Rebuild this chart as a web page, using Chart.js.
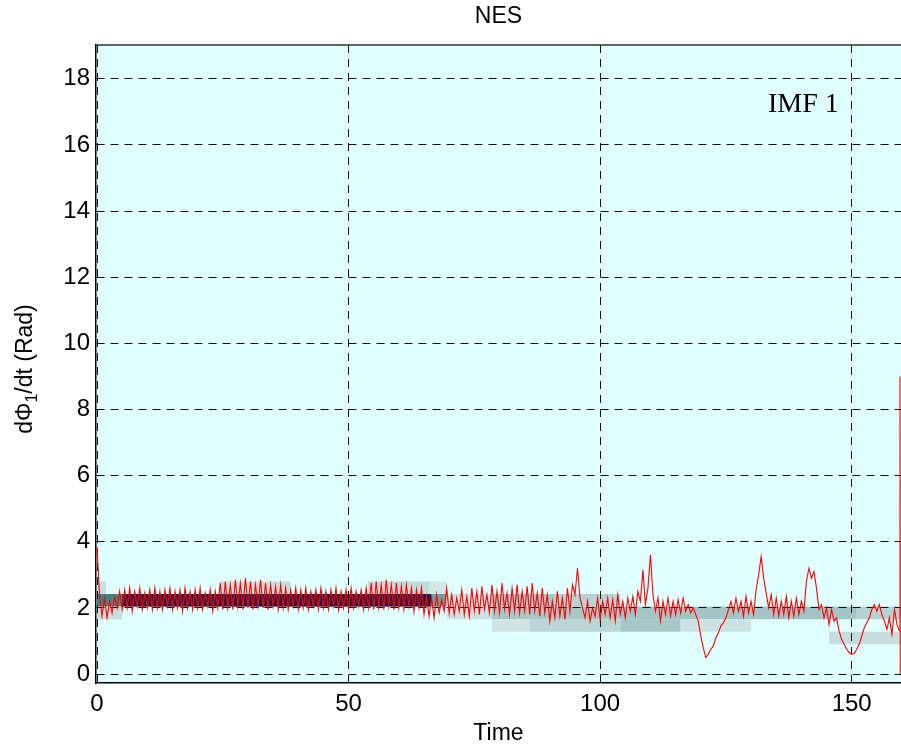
<!DOCTYPE html>
<html>
<head>
<meta charset="utf-8">
<script src="https://cdn.jsdelivr.net/npm/chart.js@4"></script>
<style>
  html, body { margin: 0; padding: 0; background: #fff; }
</style>
</head>
<body>
<canvas id="chart" width="901" height="750"></canvas>
<script>
// -----------------------------
// Data
// -----------------------------
const xTicks = [0, 50, 100, 150];
const yTicks = [0, 2, 4, 6, 8, 10, 12, 14, 16, 18];

// instantaneous frequency of IMF 1, one sample every 0.5 time units from t = 0
const signalStep = 0.5;
const signalValues = [
  3.85, 2.4, 1.75, 2.3, 1.7, 2.2, 1.85, 2.35, 2.0, 2.5,
  1.95, 2.55, 2.0, 2.6, 1.9, 2.5, 2.05, 2.6, 1.95, 2.45,
  2.0, 2.55, 1.95, 2.6, 2.0, 2.5, 1.95, 2.55, 2.05, 2.6,
  1.95, 2.5, 2.0, 2.55, 1.9, 2.6, 2.0, 2.5, 1.95, 2.55,
  2.0, 2.6, 1.95, 2.45, 2.05, 2.55, 1.9, 2.5, 2.0, 2.75,
  1.95, 2.8, 2.0, 2.7, 1.95, 2.85, 2.05, 2.75, 1.95, 2.9,
  2.0, 2.8, 1.95, 2.7, 2.05, 2.85, 2.0, 2.75, 1.95, 2.7,
  2.05, 2.65, 1.95, 2.7, 2.0, 2.6, 1.95, 2.55, 2.05, 2.6,
  1.95, 2.55, 2.0, 2.6, 1.95, 2.5, 2.05, 2.55, 1.95, 2.6,
  2.0, 2.5, 1.95, 2.55, 2.05, 2.6, 1.95, 2.5, 2.0, 2.55,
  1.95, 2.6, 2.0, 2.5, 2.05, 2.55, 1.95, 2.6, 2.0, 2.75,
  1.95, 2.8, 2.0, 2.7, 1.95, 2.85, 2.05, 2.7, 1.95, 2.75,
  2.0, 2.65, 1.95, 2.7, 2.05, 2.6, 1.9, 2.55, 2.0, 2.6,
  1.8, 2.35, 1.75, 2.3, 1.7, 2.4, 1.85, 2.25, 1.9, 2.6,
  1.85, 2.4, 1.8, 2.3, 1.9, 2.55, 1.8, 2.35, 1.75, 2.6,
  1.9, 2.5, 1.8, 2.65, 1.95, 2.4, 1.85, 2.7, 1.9, 2.5,
  1.85, 2.75, 1.95, 2.45, 1.8, 2.6, 1.9, 2.7, 1.85, 2.5,
  1.9, 2.65, 1.8, 2.75, 1.9, 2.45, 1.75, 2.6, 1.85, 2.4,
  1.6, 2.2, 1.7, 2.5, 1.75, 2.3, 1.65, 2.6, 1.9, 2.7,
  2.4, 3.2, 2.3, 2.0, 1.7, 2.2, 1.6, 2.0, 1.75, 2.3,
  1.65, 2.2, 1.8, 2.3, 1.7, 2.25, 1.6, 2.4, 1.8, 2.2,
  1.7, 2.3, 1.9, 2.35, 1.8, 2.5, 2.2, 3.15, 2.1, 2.6,
  3.6, 2.4, 1.9, 2.3, 1.6, 2.2, 1.8, 2.3, 1.75, 2.2,
  1.8, 2.25, 1.85, 2.3, 1.9, 2.1, 1.85, 2.0, 1.8, 1.6,
  1.15, 0.8, 0.5, 0.6, 0.75, 0.85, 1.1, 1.25, 1.45, 1.55,
  1.7, 1.95, 2.2, 1.85, 2.3, 1.9, 2.2, 1.75, 2.35, 1.85,
  2.2, 1.8, 2.55, 3.0, 3.55, 2.9, 2.45, 2.0, 2.4, 1.8,
  2.3, 1.75, 2.2, 1.8, 2.35, 1.7, 2.2, 1.75, 2.3, 1.8,
  2.2, 1.9, 2.8, 3.2, 2.9, 3.1, 2.6, 1.95, 2.1, 1.7,
  2.0, 1.5, 1.95, 1.6, 1.7, 1.3, 1.05, 0.9, 0.75, 0.65,
  0.6, 0.62, 0.75, 0.9, 1.15, 1.4, 1.55, 1.7, 1.95, 2.1,
  1.9, 2.1, 1.8, 1.6, 1.35, 1.7, 1.2, 1.95, 1.5, 1.3
];
// end effect at the right edge
const edgeTimes = [159.6, 159.65];
const edgeValues = [9.0, 0];

// energy cells of the spectrum behind the curve
const cellStart = [0, 0, 0, 5, 24.5, 53.8, 66, 66.5, 69.5, 78.5, 78.5, 78.5, 86, 91, 104, 104, 116, 151, 145.5];
const cellEnd   = [1.8, 5, 5, 66.5, 38.5, 66, 69.5, 69.5, 78.5, 91, 104, 86, 104, 104, 151, 116, 130, 160, 160];
const cellLow   = [2.42, 2.04, 1.66, 2.04, 2.42, 2.42, 2.42, 2.04, 1.66, 2.04, 1.66, 1.28, 1.28, 2.04, 1.66, 1.28, 1.28, 1.66, 0.9];
const cellHigh  = [2.8, 2.42, 2.04, 2.42, 2.8, 2.8, 2.8, 2.42, 2.42, 2.42, 2.04, 1.66, 1.66, 2.42, 2.04, 1.66, 1.66, 2.04, 1.28];
const cellShade = ['#c8dede', '#3f8585', '#c8dede', '#1c1c4c', '#c8dede', '#c2dada', '#d3e7e7', '#6aa0a0',
                   '#cfe3e3', '#a8c8c8', '#a8c8c8', '#d0e4e4', '#bcd5d5', '#b8d3d3', '#a4c5c5', '#a8c8c8',
                   '#cde2e2', '#b5d1d1', '#c8dede'];

// -----------------------------
// Build points
// -----------------------------
const points = signalValues.map((v, i) => ({x: i * signalStep, y: v}));
edgeTimes.forEach((t, i) => points.push({x: t, y: edgeValues[i]}));

const FONT = '"Liberation Sans", Arial, sans-serif';

// background, spectrum cells and the texts around the axes
const decor = {
  id: 'decor',
  beforeDraw(chart) {
    const {ctx, chartArea: a, scales: {x, y}} = chart;
    ctx.save();
    ctx.fillStyle = '#e0ffff';
    ctx.fillRect(a.left, a.top, a.right - a.left, a.bottom - a.top);
    ctx.beginPath();
    ctx.rect(a.left, a.top, a.right - a.left, a.bottom - a.top);
    ctx.clip();
    for (let i = 0; i < cellStart.length; i++) {
      const x0 = x.getPixelForValue(cellStart[i]);
      const x1 = x.getPixelForValue(cellEnd[i]);
      const y0 = y.getPixelForValue(cellLow[i]);
      const y1 = y.getPixelForValue(cellHigh[i]);
      ctx.fillStyle = cellShade[i];
      ctx.fillRect(x0, y1, x1 - x0, y0 - y1);
    }
    ctx.restore();
  },
  afterDraw(chart) {
    const {ctx, chartArea: a} = chart;
    ctx.save();
    // top frame line
    ctx.strokeStyle = '#333';
    ctx.lineWidth = 1.5;
    ctx.beginPath();
    ctx.moveTo(a.left, a.top);
    ctx.lineTo(a.right, a.top);
    ctx.stroke();

    ctx.fillStyle = '#000';
    ctx.textAlign = 'center';
    ctx.textBaseline = 'middle';
    const cx = (a.left + a.right) / 2;
    ctx.font = '23px ' + FONT;
    ctx.fillText('NES', cx, 17);
    ctx.fillText('Time', cx, 734);

    // y label with subscript
    ctx.translate(26, (a.top + a.bottom) / 2 + 5);
    ctx.rotate(-Math.PI / 2);
    const big = '23px ' + FONT, small = '16px ' + FONT;
    ctx.font = big;
    const w1 = ctx.measureText('d\u03A6').width;
    const w3 = ctx.measureText('/dt (Rad)').width;
    ctx.font = small;
    const w2 = ctx.measureText('1').width;
    let px = -(w1 + w2 + w3) / 2;
    ctx.textAlign = 'left';
    ctx.font = big;
    ctx.fillText('d\u03A6', px, 0);
    px += w1;
    ctx.font = small;
    ctx.fillText('1', px, 7);
    px += w2;
    ctx.font = big;
    ctx.fillText('/dt (Rad)', px, 0);
    ctx.restore();

    ctx.save();
    ctx.fillStyle = '#000';
    ctx.font = '28px "Liberation Serif", "Times New Roman", serif';
    ctx.textAlign = 'left';
    ctx.textBaseline = 'middle';
    ctx.fillText('IMF 1', 768, 105);
    ctx.restore();
  }
};

new Chart(document.getElementById('chart'), {
  type: 'line',
  data: {
    datasets: [{
      data: points,
      borderColor: '#ff0000',
      borderWidth: 1.1,
      pointRadius: 0,
      tension: 0,
      fill: false
    }]
  },
  options: {
    responsive: false,
    animation: false,
    events: [],
    layout: { padding: { top: 45, right: 0, left: 0, bottom: 0 } },
    plugins: { legend: { display: false }, tooltip: { enabled: false } },
    scales: {
      x: {
        type: 'linear',
        min: -0.2,
        max: 159.8,
        afterBuildTicks: s => { s.ticks = xTicks.map(v => ({value: v})); },
        afterFit: s => { s.height = 67; },
        grid: { color: '#111', lineWidth: 1, drawTicks: false },
        border: { color: '#000', width: 1.5, dash: [8, 6] },
        ticks: { color: '#000', font: { family: FONT, size: 24 }, padding: 7, maxRotation: 0 }
      },
      y: {
        min: -0.27,
        max: 19.02,
        afterBuildTicks: s => { s.ticks = yTicks.map(v => ({value: v})); },
        afterFit: s => { s.width = 96; },
        grid: { color: '#111', lineWidth: 1, drawTicks: false },
        border: { color: '#000', width: 1.5, dash: [8, 6] },
        ticks: { color: '#000', font: { family: FONT, size: 24 }, padding: 6 }
      }
    }
  },
  plugins: [decor]
});
</script>
</body>
</html>
